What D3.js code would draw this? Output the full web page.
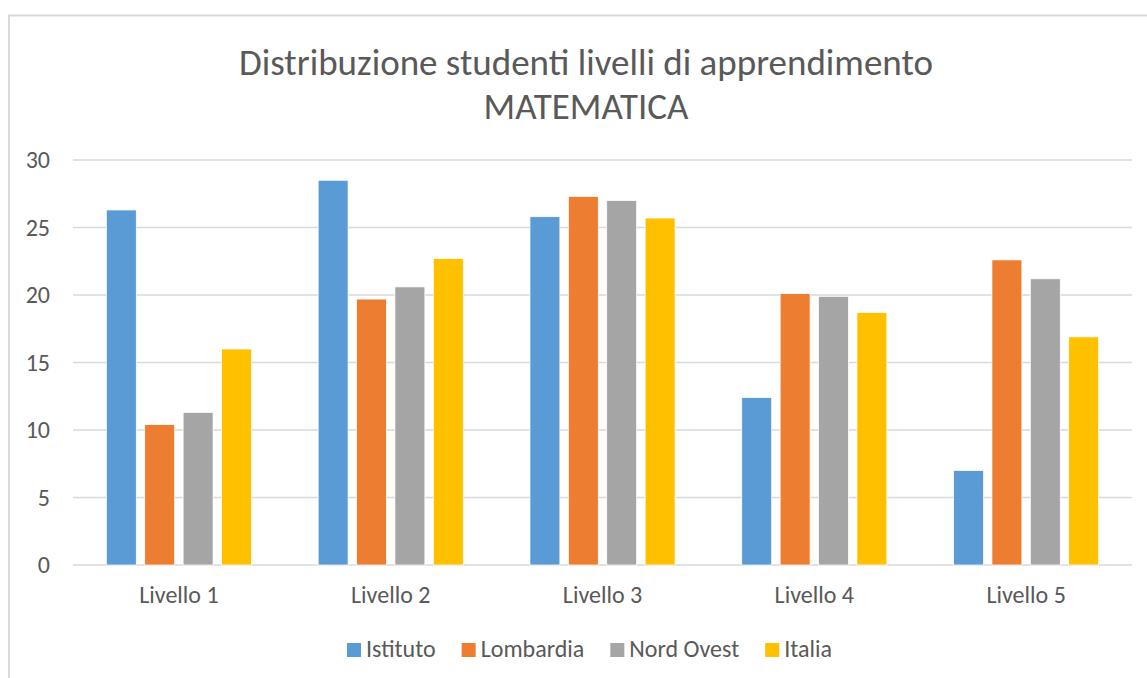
<!DOCTYPE html>
<html>
<head>
<meta charset="utf-8">
<script src="https://cdn.jsdelivr.net/npm/d3@7"></script>
<style>
  html, body { margin: 0; padding: 0; background: #fff; }
  svg text { font-family: Carlito, Lato, "Open Sans", sans-serif; fill: #595959; }
</style>
</head>
<body>
<div id="chart"></div>
<script>
var categories = ["Livello 1", "Livello 2", "Livello 3", "Livello 4", "Livello 5"];
var seriesNames = ["Istituto", "Lombardia", "Nord Ovest", "Italia"];
var istituto = [26.3, 28.5, 25.8, 12.4, 7.0];
var lombardia = [10.4, 19.7, 27.3, 20.1, 22.6];
var nordOvest = [11.3, 20.6, 27.0, 19.9, 21.2];
var italia = [16.0, 22.7, 25.7, 18.7, 16.9];
var yTicks = [0, 5, 10, 15, 20, 25, 30];
var colors = ["#5B9BD5", "#ED7D31", "#A5A5A5", "#FFC000"];
var titleLines = ["Distribuzione studenti livelli di apprendimento", "MATEMATICA"];

var width = 1147,
    height = 678,
    marginLeft = 73,
    marginRight = 15,
    marginTop = 160,
    marginBottom = 113;

var values = [istituto, lombardia, nordOvest, italia];
var rows = categories.map(function(c, i){
  return { cat: c, vals: seriesNames.map(function(s, j){ return { key: s, idx: j, value: values[j][i] }; }) };
});

var svg = d3.select("#chart").append("svg")
    .attr("width", width)
    .attr("height", height);

// chart frame
svg.append("path")
    .attr("d", "M9," + (height + 5) + "V15.5H" + (width + 5))
    .attr("fill", "none")
    .attr("stroke", "#d9d9d9")
    .attr("stroke-width", 2);

var x0 = d3.scaleBand()
    .domain(categories)
    .range([marginLeft, width - marginRight])
    .paddingInner(0.275)
    .paddingOuter(0.1375);

var x1 = d3.scaleBand()
    .domain(seriesNames)
    .range([0, x0.bandwidth()])
    .paddingInner(0.22)
    .paddingOuter(0.11);

var y = d3.scaleLinear()
    .domain([0, 30])
    .range([height - marginBottom, marginTop]);

// gridlines
svg.append("g")
    .selectAll("line")
    .data(yTicks)
  .enter().append("line")
    .attr("x1", marginLeft)
    .attr("x2", width - marginRight)
    .attr("y1", function(d){ return y(d); })
    .attr("y2", function(d){ return y(d); })
    .attr("stroke", "#d9d9d9")
    .attr("stroke-width", 1.5);

// y axis labels
var yAxis = svg.append("g")
    .attr("transform", "translate(" + (marginLeft - 23) + ",0)")
    .call(d3.axisLeft(y).tickValues(yTicks).tickSize(0).tickPadding(0));
yAxis.select(".domain").remove();
yAxis.selectAll("text")
    .attr("font-size", "24px")
    .attr("font-family", null)
    .attr("fill", "#595959");

// bars
var groups = svg.append("g")
    .selectAll("g")
    .data(rows)
  .enter().append("g")
    .attr("transform", function(d){ return "translate(" + x0(d.cat) + ",0)"; });

groups.selectAll("rect")
    .data(function(d){ return d.vals; })
  .enter().append("rect")
    .attr("x", function(d){ return x1(d.key); })
    .attr("width", x1.bandwidth())
    .attr("y", function(d){ return y(d.value); })
    .attr("height", function(d){ return y(0) - y(d.value); })
    .attr("fill", function(d){ return colors[d.idx]; })
    .attr("stroke", "#fff")
    .attr("stroke-width", 0.75);

// x axis labels
var xAxis = svg.append("g")
    .attr("transform", "translate(0," + (y(0) + 38) + ")")
    .call(d3.axisBottom(x0).tickSize(0).tickPadding(0));
xAxis.select(".domain").remove();
xAxis.selectAll("text")
    .attr("font-size", "24px")
    .attr("font-family", null)
    .attr("fill", "#595959")
    .attr("dy", 0);

// title
svg.append("g")
    .selectAll("text")
    .data(titleLines)
  .enter().append("text")
    .attr("x", 586)
    .attr("y", function(d, i){ return 75 + i * 44; })
    .attr("text-anchor", "middle")
    .attr("font-size", "37px")
    .attr("font-weight", 300)
    .text(function(d){ return d; });

// legend
var legend = svg.append("g");
var items = legend.selectAll("g")
    .data(seriesNames)
  .enter().append("g");

items.append("rect")
    .attr("width", 14)
    .attr("height", 14)
    .attr("y", 643)
    .attr("fill", function(d, i){ return colors[i]; });

items.append("text")
    .attr("x", 19)
    .attr("y", 657)
    .attr("font-size", "24px")
    .text(function(d){ return d; });

var offset = 0;
items.each(function(){
  var g = d3.select(this);
  var w = 19 + g.select("text").node().getComputedTextLength();
  g.attr("transform", "translate(" + offset + ",0)");
  offset += w + 26;
});
var total = offset - 26;
legend.attr("transform", "translate(" + (589.5 - total / 2) + ",0)");
</script>
</body>
</html>
